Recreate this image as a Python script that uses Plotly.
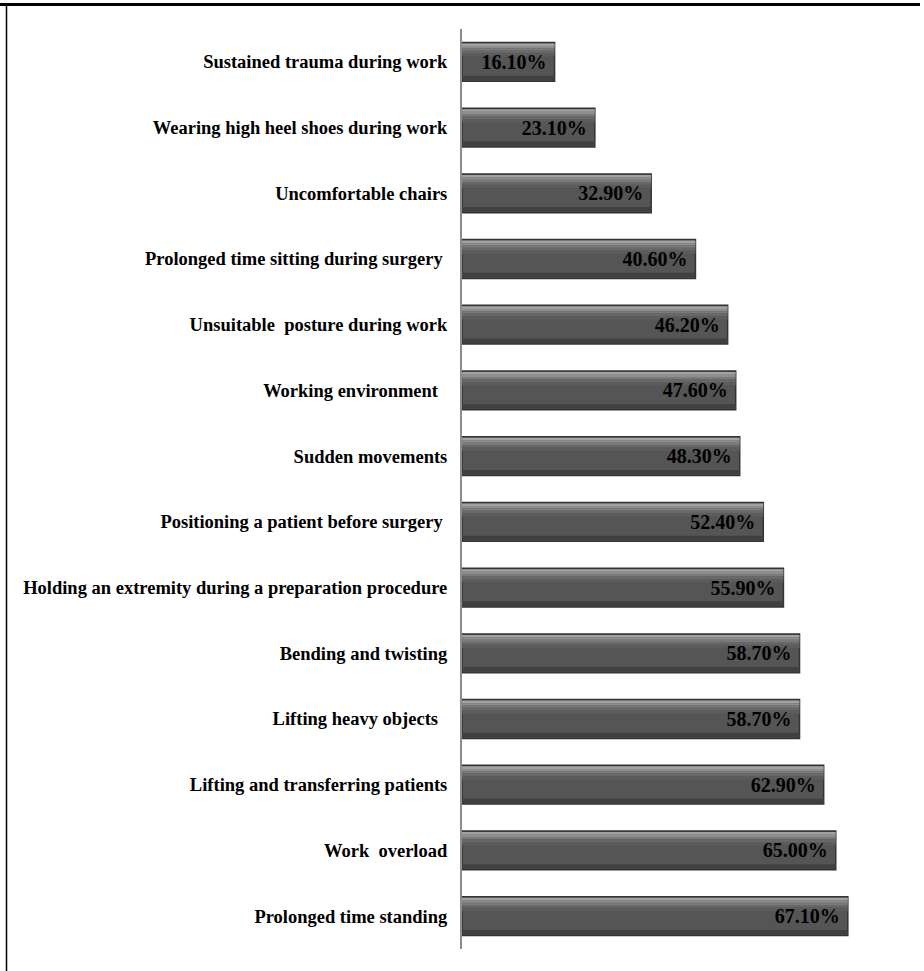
import plotly.graph_objects as go

categories = [
    "Sustained trauma during work",
    "Wearing high heel shoes during work",
    "Uncomfortable chairs",
    "Prolonged time sitting during surgery\u00a0",
    "Unsuitable  posture during work",
    "Working environment\u00a0\u00a0",
    "Sudden movements",
    "Positioning a patient before surgery\u00a0",
    "Holding an extremity during a preparation procedure",
    "Bending and twisting",
    "Lifting heavy objects\u00a0\u00a0",
    "Lifting and transferring patients",
    "Work  overload",
    "Prolonged time standing",
]
values = [16.1, 23.1, 32.9, 40.6, 46.2, 47.6, 48.3, 52.4, 55.9, 58.7, 58.7, 62.9, 65.0, 67.1]
labels = [f"{v:.2f}%\u00a0" for v in values]

W, H = 924, 971
ML, MR, MT, MB = 462, 2, 29, 22
PW, PH = W - ML - MR, H - MT - MB

FONT = "Liberation Serif"
BW = 0.59

fig = go.Figure()
# base bar with dark outline
fig.add_trace(go.Bar(
    y=categories, x=values, orientation="h", width=BW,
    marker=dict(color="#555555", line=dict(color="#333333", width=1.5)),
    hoverinfo="skip", showlegend=False,
))
# gradient bands (top highlight -> body -> dark bottom)
bands = [
    (0.015, 0.04, "#a2a2a2"),
    (0.055, 0.035, "#8e8e8e"),
    (0.09, 0.035, "#7a7a7a"),
    (0.125, 0.04, "#686868"),
    (0.165, 0.05, "#5c5c5c"),
    (BW - 0.085, 0.07, "#404040"),
]
for off, wd, col in bands:
    fig.add_trace(go.Bar(
        y=categories, x=values, orientation="h", width=wd, offset=-BW / 2 + off,
        marker=dict(color=col, line=dict(width=0)),
        hoverinfo="skip", showlegend=False,
    ))
# text layer
fig.add_trace(go.Bar(
    y=categories, x=values, orientation="h", width=BW,
    marker=dict(color="rgba(0,0,0,0)", line=dict(width=0)),
    text=labels, textposition="inside", insidetextanchor="end",
    textfont=dict(family=FONT, size=20, color="#000000", weight="bold"),
    constraintext="none", cliponaxis=False,
    hoverinfo="skip", showlegend=False,
))

def px_x(p):
    return (p - ML) / PW

def px_y(p):
    return 1 - (p - MT) / PH

shapes = [
    dict(type="line", xref="paper", yref="paper", x0=px_x(0), x1=px_x(920),
         y0=px_y(4.5), y1=px_y(4.5), line=dict(color="#000000", width=3)),
    dict(type="line", xref="paper", yref="paper", x0=px_x(6.5), x1=px_x(6.5),
         y0=px_y(4.5), y1=px_y(H), line=dict(color="#000000", width=1.5)),
]

fig.update_layout(
    width=W, height=H,
    margin=dict(l=ML, r=MR, t=MT, b=MB),
    paper_bgcolor="white", plot_bgcolor="white",
    barmode="overlay", bargap=0.41,
    shapes=shapes,
    xaxis=dict(range=[0, 80], showgrid=False, zeroline=False, showticklabels=False,
               showline=False, ticks=""),
    yaxis=dict(autorange="reversed", showgrid=False, zeroline=False,
               showline=True, linecolor="#8c8c8c", linewidth=2, ticks="",
               ticklabelstandoff=9,
               tickfont=dict(family=FONT, size=18.5, color="#000000", weight="bold")),
)

fig.write_html("out.html")
